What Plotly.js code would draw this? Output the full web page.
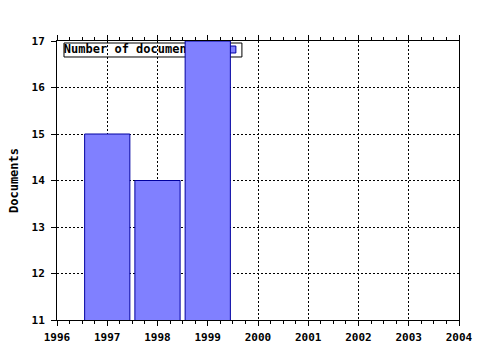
<!DOCTYPE html>
<html>
<head>
<meta charset="utf-8">
<script src="https://cdn.plot.ly/plotly-3.0.1.min.js"></script>
<style>html,body{margin:0;padding:0;background:#fff;}#chart{width:480px;height:350px;}</style>
</head>
<body>
<div id="chart"></div>
<script>
const years = [1997, 1998, 1999];
const documents = [15, 14, 17];
const seriesName = 'Number of documents';
const xTickVals = [1996, 1997, 1998, 1999, 2000, 2001, 2002, 2003, 2004];
const yTickVals = [11, 12, 13, 14, 15, 16, 17];

const mono = {family: 'DejaVu Sans Mono, monospace', size: 11, color: '#000', weight: 'bold'};

// legend label drawn on the hidden base subplot (0..1 coordinates), so the bars cover it
const legendText = {
  type: 'scatter', mode: 'text', x: [0.017], y: [0.968], text: [seriesName],
  textposition: 'middle right', hoverinfo: 'skip', showlegend: false,
  textfont: {family: 'DejaVu Sans Mono, monospace', size: 12, color: '#000', weight: 'bold'},
  cliponaxis: false, xaxis: 'x', yaxis: 'y'
};

const bars = {
  type: 'bar', x: years, y: documents, width: 0.9,
  marker: {color: '#8080ff', line: {color: '#0000a0', width: 1}},
  xaxis: 'x2', yaxis: 'y2', showlegend: false, hoverinfo: 'x+y'
};

const layout = {
  width: 480, height: 350,
  margin: {l: 57, r: 21, t: 41, b: 30, pad: 0},
  paper_bgcolor: '#fff', plot_bgcolor: '#fff',
  showlegend: false,
  font: mono,
  xaxis: {visible: false, range: [0, 1], fixedrange: true},
  yaxis: {visible: false, range: [0, 1], fixedrange: true},
  xaxis2: {
    overlaying: 'x', range: [1996, 2004], tickvals: xTickVals, ticktext: xTickVals.map(String),
    showline: true, linecolor: '#000', linewidth: 1, mirror: 'ticks',
    ticks: 'outside', ticklen: 5, tickcolor: '#000', tickwidth: 1,
    minor: {dtick: 0.25, ticks: 'outside', ticklen: 3, tickcolor: '#000', showgrid: false},
    showgrid: true, gridcolor: '#000', griddash: '2px,2px', gridwidth: 1,
    zeroline: false, tickfont: mono, ticklabelstandoff: 2, automargin: false
  },
  yaxis2: {
    overlaying: 'y', range: [11, 17], tickvals: yTickVals, ticktext: yTickVals.map(String),
    showline: true, linecolor: '#000', linewidth: 1, mirror: true,
    ticks: 'outside', ticklen: 5, tickcolor: '#000', tickwidth: 1,
    showgrid: true, gridcolor: '#000', griddash: '2px,2px', gridwidth: 1,
    zeroline: false, tickfont: mono, ticklabelstandoff: 4, automargin: false,
    title: {text: 'Documents', font: {family: 'DejaVu Sans Mono, monospace', size: 12, color: '#000', weight: 'bold'}, standoff: 10}
  },
  shapes: [
    {type: 'rect', xref: 'paper', yref: 'paper', x0: 0.0174, x1: 0.460, y0: 0.9427, y1: 0.9928,
     line: {color: '#000', width: 1}, fillcolor: '#fff', layer: 'below'},
    {type: 'rect', xref: 'paper', yref: 'paper', x0: 0.428, x1: 0.445, y0: 0.957, y1: 0.982,
     line: {color: '#0000a0', width: 1}, fillcolor: '#8080ff', layer: 'below'}
  ]
};

Plotly.newPlot('chart', [legendText, bars], layout, {staticPlot: true, displayModeBar: false});
</script>
</body>
</html>
